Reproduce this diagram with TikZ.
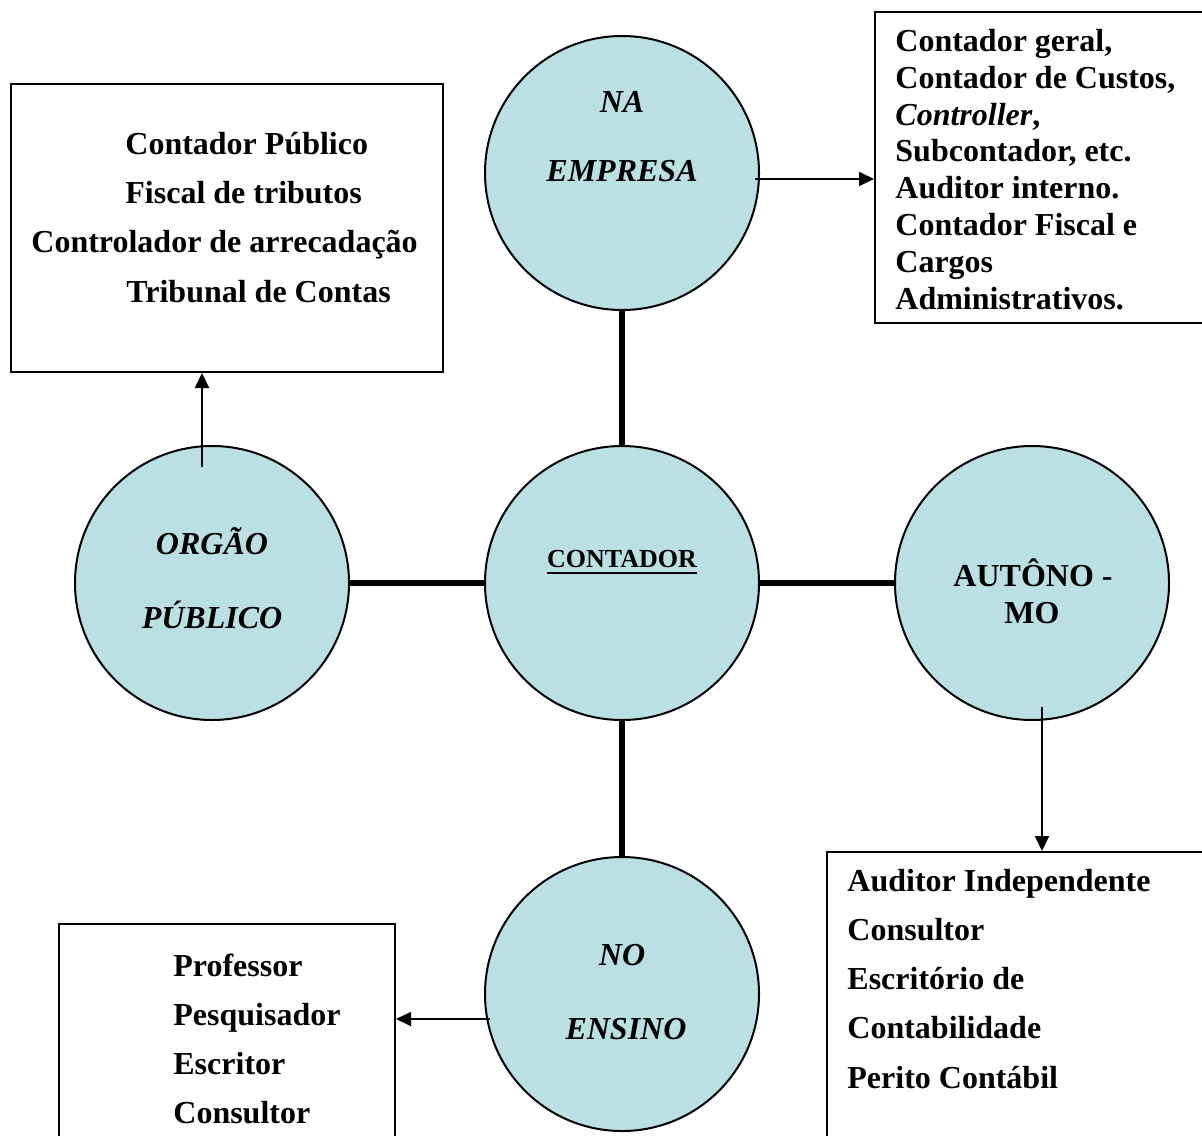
\documentclass[tikz,border=0pt]{standalone}
\usepackage{fontspec}
\setmainfont{Liberation Serif}
\usetikzlibrary{arrows.meta}
\definecolor{bubblefill}{RGB}{187,224,227}
\begin{document}
\begin{tikzpicture}[x=0.5pt,y=-0.5pt,
  bubble/.style={circle,draw=black,line width=1pt,fill=bubblefill,minimum size=137pt,inner sep=0pt},
  box/.style={rectangle,draw=black,line width=1pt,anchor=north west,inner sep=0pt},
  item/.style={anchor=base west,inner sep=0pt,font=\fontsize{16}{19}\selectfont\bfseries},
  clabel/.style={anchor=base,inner sep=0pt,font=\fontsize{16}{19}\selectfont\bfseries},
  clabeli/.style={anchor=base,inner sep=0pt,font=\fontsize{16}{19}\selectfont\bfseries\itshape},
  link/.style={line width=2.6pt},
  arr/.style={line width=0.9pt,-{Triangle[length=7.5pt,width=7pt]}}]
\useasboundingbox (0,0) rectangle (1202,1135);

% boxes
\node[box,minimum width=216pt,minimum height=144pt] (tl) at (10,83) {};
\node[box,minimum width=180pt,minimum height=155.5pt] (tr) at (874,11) {};
\node[box,minimum width=200pt,minimum height=160pt] (br) at (826,851) {};
\node[box,minimum width=168pt,minimum height=130pt] (bl) at (58,923) {};

% circles
\node[bubble] (emp) at (622,173) {};
\node[bubble] (cont) at (622,583) {};
\node[bubble] (org) at (212,583) {};
\node[bubble] (aut) at (1032,583) {};
\node[bubble] (ens) at (622,994) {};

% thick links
\draw[link] (emp) -- (cont);
\draw[link] (org) -- (cont);
\draw[link] (cont) -- (aut);
\draw[link] (cont) -- (ens);

% circle labels
\node[clabeli] (empA) at (622,112) {NA};
\node[clabeli] (empB) at (622,181) {EMPRESA};
\node[clabeli] (orgA) at (212,554) {ORGÃO};
\node[clabeli] (orgB) at (212,628) {PÚBLICO};
\node[clabel,font=\fontsize{13}{15}\selectfont\bfseries] (contL) at (622,567.5) {CONTADOR};
\draw[line width=1.3pt] ([yshift=-2.5pt]contL.south west) -- ([yshift=-2.5pt]contL.south east);
\node[clabel] (autA) at (1033,586) {AUTÔNO -};
\node[clabel] (autB) at (1032,623) {MO};
\node[clabeli] (ensA) at (622,965) {NO};
\node[clabeli] (ensB) at (626,1039) {ENSINO};

% arrows
\coordinate (empOut) at (755,179);
\draw[arr] (empOut) -- (empOut -| tr.west);
\coordinate (orgOut) at (202,467);
\draw[arr] (orgOut) -- (orgOut |- tl.south);
\coordinate (autOut) at (1042,707);
\draw[arr] (autOut) -- (autOut |- br.north);
\coordinate (ensOut) at (490,1019);
\draw[arr] (ensOut) -- (ensOut -| bl.east);

% top-left box text
\node[item] (tl1) at (125,154) {Contador Público};
\node[item] (tl2) at (125,203) {Fiscal de tributos};
\node[item] (tl3) at (31,252) {Controlador de arrecadação};
\node[item] (tl4) at (126,302) {Tribunal de Contas};

% top-right box text
\node[item] (tr1) at (895,51) {Contador geral,};
\node[item] (tr2) at (895,88) {Contador de Custos,};
\node[item] (tr3) at (895,125) {{\itshape Controller},};
\node[item] (tr4) at (895,161) {Subcontador, etc.};
\node[item] (tr5) at (895,198) {Auditor interno.};
\node[item] (tr6) at (895,235) {Contador Fiscal e};
\node[item] (tr7) at (895,272) {Cargos};
\node[item] (tr8) at (895,309) {Administrativos.};

% bottom-right box text
\node[item] (br1) at (847,891) {Auditor Independente};
\node[item] (br2) at (847,940) {Consultor};
\node[item] (br3) at (847,989) {Escritório de};
\node[item] (br4) at (847,1038) {Contabilidade};
\node[item] (br5) at (847,1088) {Perito Contábil};

% bottom-left box text
\node[item] (bl1) at (173,976) {Professor};
\node[item] (bl2) at (173,1025) {Pesquisador};
\node[item] (bl3) at (173,1074) {Escritor};
\node[item] (bl4) at (173,1123) {Consultor};
\end{tikzpicture}
\end{document}
